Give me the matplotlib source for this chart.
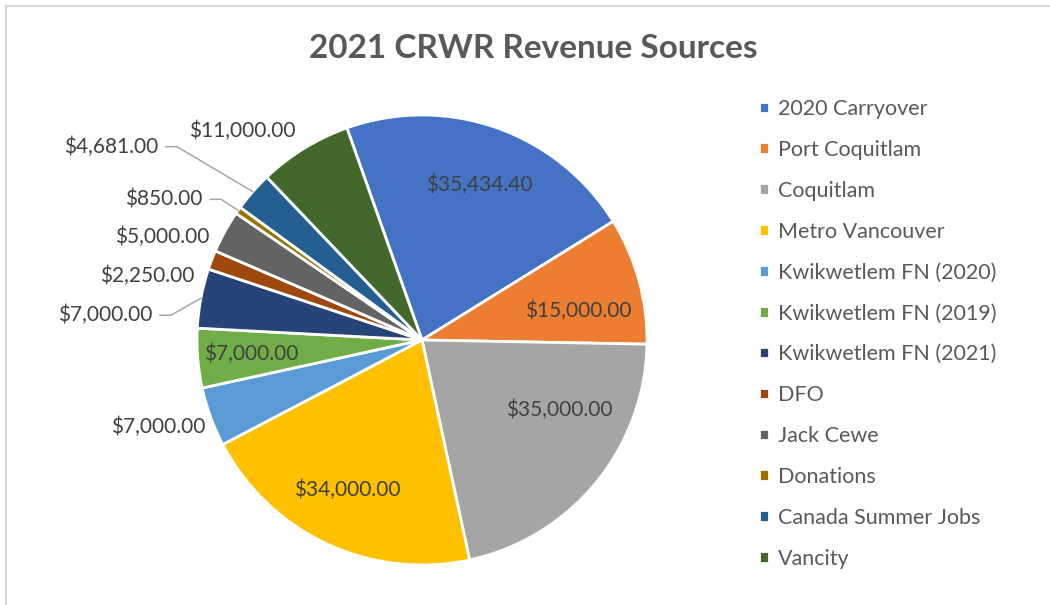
import numpy as np
import matplotlib
matplotlib.use('Agg')
import matplotlib.pyplot as plt

plt.rcParams['font.family'] = ['Lato', 'DejaVu Sans']

# data
sources = ['2020 Carryover', 'Port Coquitlam', 'Coquitlam', 'Metro Vancouver',
           'Kwikwetlem FN (2020)', 'Kwikwetlem FN (2019)', 'Kwikwetlem FN (2021)',
           'DFO', 'Jack Cewe', 'Donations', 'Canada Summer Jobs', 'Vancity']
amounts = [35434.40, 15000.00, 35000.00, 34000.00, 7000.00, 7000.00, 7000.00,
           2250.00, 5000.00, 850.00, 4681.00, 11000.00]
colors = ['#4472C4', '#ED7D31', '#A5A5A5', '#FFC000', '#5B9BD5', '#70AD47',
          '#264478', '#9E480E', '#636363', '#997300', '#255E91', '#43682B']

# label placement: (radius factor, dx, dy, ha, leader line)
label_style = [
    (0.72, 4, 2, 'center', False),
    (0.72, 0, -14, 'center', False),
    (0.72, 12, 33, 'center', False),
    (0.72, -6, -3, 'center', False),
    (1.0, -5, -10, 'right', False),
    (0.76, 0, 0, 'center', False),
    (1.0, -49, -17, 'right', True),
    (1.0, -17, -16, 'right', False),
    (1.0, -15, -5, 'right', False),
    (1.0, -36, 11, 'right', True),
    (1.0, -95, 45, 'right', True),
    (1.0, -62, 17, 'center', False),
]

text_color = '#595959'
cx, cy, R = 422, 265, 225

fig = plt.figure(figsize=(10.5, 6.05), dpi=100)
ax = fig.add_axes([0, 0, 1, 1])

wedges, _ = ax.pie(amounts, colors=colors, startangle=109.5, counterclock=False,
                   radius=R, center=(cx, cy),
                   wedgeprops=dict(edgecolor='white', linewidth=2))

for w, val, (f, dx, dy, ha, lead) in zip(wedges, amounts, label_style):
    ang = np.deg2rad((w.theta1 + w.theta2) / 2)
    ux, uy = np.cos(ang), np.sin(ang)
    tx = cx + f * R * ux + dx
    ty = cy + f * R * uy + dy
    ax.text(tx, ty, '${:,.2f}'.format(val), ha=ha, va='center',
            fontsize=15, color='#404040')
    if lead:
        ex, ey = cx + R * ux, cy + R * uy
        ax.plot([ex, tx + 19, tx + 8], [ey, ty, ty], color='#A6A6A6', lw=1.1)

ax.text(533, 556, '2021 CRWR Revenue Sources', ha='center', va='center',
        fontsize=24, fontweight='bold', color=text_color)

leg = ax.legend(wedges, sources, loc='upper left', bbox_to_anchor=(759, 605 - 99),
                bbox_transform=ax.transData, frameon=False, fontsize=15.5,
                handlelength=0.45, handleheight=0.45, handletextpad=0.42,
                labelspacing=0.97, borderpad=0, borderaxespad=0)
for t in leg.get_texts():
    t.set_color(text_color)

# chart frame (only top and left edges visible)
ax.plot([6, 6], [0, 599], color='#D9D9D9', lw=1.6, clip_on=False)
ax.plot([6, 1050], [599, 599], color='#D9D9D9', lw=1.6, clip_on=False)

ax.set_xlim(0, 1050)
ax.set_ylim(0, 605)
ax.axis('off')

fig.savefig('out.png', dpi=100, facecolor='white')
